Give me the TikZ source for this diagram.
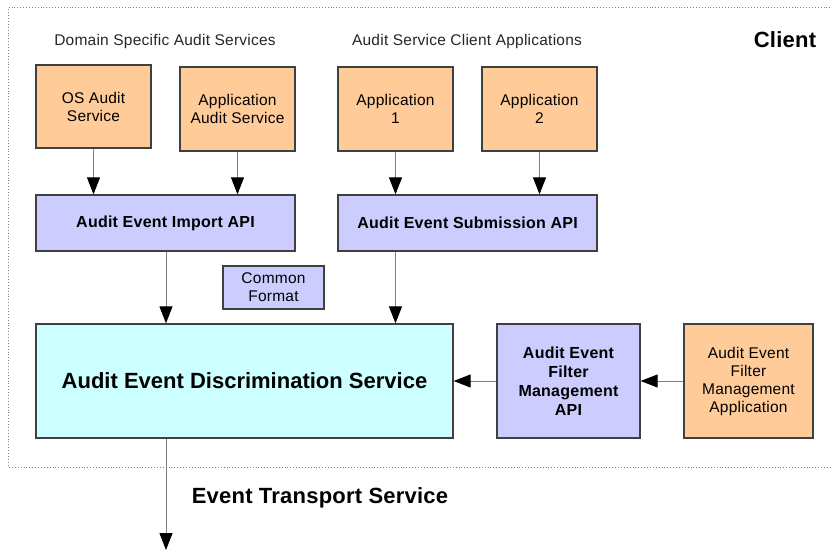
\documentclass[tikz,border=0pt]{standalone}
\usepackage{fontspec}
\setmainfont{Liberation Sans}
\usetikzlibrary{arrows.meta}
\definecolor{appfill}{HTML}{FFCC99}
\definecolor{apifill}{HTML}{CCCCFF}
\definecolor{svcfill}{HTML}{CCFFFF}
\definecolor{boxline}{HTML}{404040}
\definecolor{linkline}{HTML}{808080}
\tikzset{
  box/.style={draw=boxline, line width=1.3pt, align=center, inner sep=0pt,
    font=\fontsize{15.5}{18}\selectfont\addfontfeature{LetterSpace=1.5}},
  appbox/.style={box, fill=appfill},
  apibox/.style={box, fill=apifill,
    font=\fontsize{16}{19}\selectfont\bfseries\addfontfeature{LetterSpace=1.5}},
  svcbox/.style={box, fill=svcfill, font=\fontsize{22}{25}\selectfont\bfseries},
  link/.style={draw=linkline, line width=1pt,
    -{Triangle[length=17pt,width=13pt,color=black]}},
  caption/.style={font=\fontsize{15.5}{17}\selectfont\addfontfeature{LetterSpace=1.5},
    text=black!85, inner sep=0pt},
  heading/.style={font=\fontsize{22}{25}\selectfont\bfseries\addfontfeature{LetterSpace=1},
    inner sep=0pt},
}
\begin{document}
\begin{tikzpicture}[x=1pt,y=-1pt]
\useasboundingbox (0,0) rectangle (831,554);

% client boundary
\draw[linkline, dotted, line width=0.9pt] (836,7.5) -- (8.5,7.5) -- (8.5,467) -- (836,467);

% section captions
\node[caption] (capdomain) at (165,41) {Domain Specific Audit Services};
\node[caption] (capclient) at (467,41) {Audit Service Client Applications};
\node[heading] (client) at (785,40) {Client};
\node[heading] (transport) at (320,498) {Event Transport Service};

% producers
\node[appbox, minimum width=115pt, minimum height=83pt] (os) at (93.5,106.5) {OS Audit\\Service};
\node[appbox, minimum width=115pt, minimum height=84pt] (appaudit) at (237.5,109) {Application\\Audit Service};
\node[appbox, minimum width=115pt, minimum height=84pt] (app1) at (395.5,109) {Application\\1};
\node[appbox, minimum width=115pt, minimum height=84pt] (app2) at (539.5,109) {Application\\2};

% APIs
\node[apibox, minimum width=259pt, minimum height=56pt] (import) at (165.5,223) {Audit Event Import API};
\node[apibox, minimum width=259pt, minimum height=56pt] (submit) at (467.5,223) {Audit Event Submission API};
\node[box, fill=apifill, minimum width=101pt, minimum height=43pt] (format) at (273.5,287.5) {Common\\Format};

% discrimination and filter management
\node[svcbox, minimum width=417pt, minimum height=114pt] (disc) at (244.5,381) {Audit Event Discrimination Service};
\node[apibox, minimum width=143pt, minimum height=114pt] (filterapi) at (568.5,381) {Audit Event\\Filter\\Management\\API};
\node[appbox, minimum width=129pt, minimum height=114pt] (filterapp) at (748.5,381) {Audit Event\\Filter\\Management\\Application};
\coordinate (out) at (166,550);

% connectors
\draw[link] (os.south) -- (os.south |- import.north);
\draw[link] (appaudit.south) -- (appaudit.south |- import.north);
\draw[link] (app1.south) -- (app1.south |- submit.north);
\draw[link] (app2.south) -- (app2.south |- submit.north);
\draw[link] (import.south -| out) -- (disc.north -| out);
\draw[link] (submit.south -| app1.south) -- (disc.north -| app1.south);
\draw[link] (filterapi.west) -- (disc.east);
\draw[link] (filterapp.west) -- (filterapi.east);
\draw[link] (disc.south -| out) -- (out);
\end{tikzpicture}
\end{document}
